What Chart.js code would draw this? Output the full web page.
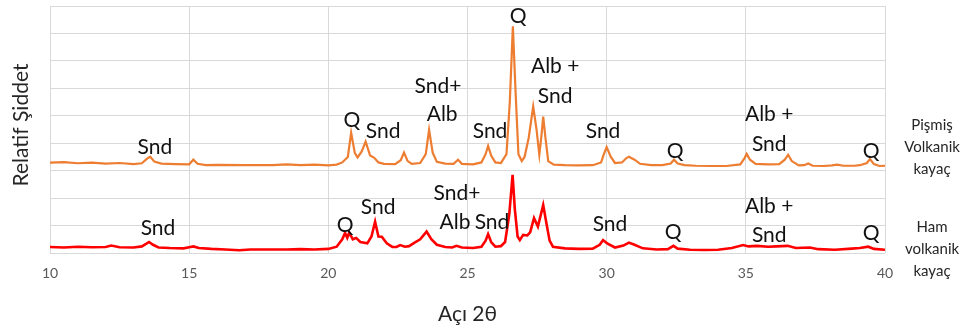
<!DOCTYPE html>
<html>
<head>
<meta charset="utf-8">
<script src="https://cdn.jsdelivr.net/npm/chart.js@4/dist/chart.umd.min.js"></script>
<style>
  html, body { margin: 0; padding: 0; background: #fff; }
  #wrap { width: 964px; height: 334px; position: relative; }
</style>
</head>
<body>
<div id="wrap"><canvas id="chart_xrd" width="964" height="334"></canvas></div>
<script>
// Pişmiş volkanik kayaç (orange, offset upward)
const PISMIS_X = [10, 10.5, 11, 11.5, 12, 12.5, 13, 13.3, 13.5, 13.6, 13.75, 14, 14.5, 15, 15.15, 15.3, 15.6, 16, 17, 18, 18.5, 19, 19.5, 20, 20.3, 20.5, 20.7, 20.82, 20.95, 21.05, 21.2, 21.34, 21.5, 21.65, 21.8, 22, 22.4, 22.6, 22.72, 22.85, 23, 23.3, 23.5, 23.62, 23.75, 23.9, 24.2, 24.5, 24.66, 24.8, 25.2, 25.5, 25.65, 25.74, 25.85, 26, 26.2, 26.4, 26.52, 26.63, 26.73, 26.83, 26.95, 27.05, 27.2, 27.36, 27.48, 27.58, 27.65, 27.72, 27.8, 27.9, 28.1, 28.5, 29, 29.5, 29.8, 29.9, 30, 30.15, 30.3, 30.55, 30.7, 30.8, 31, 31.2, 31.6, 32, 32.3, 32.42, 32.55, 32.8, 33.2, 33.8, 34.3, 34.8, 34.95, 35.03, 35.15, 35.35, 35.8, 36.2, 36.4, 36.52, 36.65, 36.9, 37.1, 37.24, 37.4, 37.8, 38.1, 38.28, 38.5, 38.9, 39.1, 39.35, 39.46, 39.6, 39.8, 40];
const PISMIS_Y = [32.9, 33.1, 32.7, 32.9, 32.6, 32.8, 32.4, 32.7, 34.5, 35.1, 33.3, 32.6, 32.4, 32.3, 34.0, 32.5, 32.0, 32.1, 32.0, 32.0, 32.3, 32.0, 32.2, 31.9, 32.2, 33.0, 35.0, 43.8, 36.5, 34.8, 37.0, 40.6, 35.5, 34.7, 33.0, 32.5, 32.4, 33.8, 36.6, 33.5, 32.5, 32.8, 36.0, 44.9, 36.5, 33.2, 32.6, 32.5, 34.0, 32.5, 32.3, 33.0, 36.0, 39.0, 35.5, 33.0, 32.8, 36.0, 55, 82.6, 58, 36, 33.5, 35, 42, 53.4, 45, 35.8, 42, 49.7, 42, 33.5, 32.2, 32.0, 31.9, 32.0, 33.0, 36, 38.6, 35, 32.8, 33.0, 34.5, 35.1, 34, 32.5, 32.0, 32.0, 32.6, 34.0, 32.6, 32.0, 31.8, 31.7, 31.7, 32.3, 34.5, 36.1, 34.0, 32.5, 32.3, 32.4, 34.0, 35.8, 33.5, 31.9, 32.0, 32.6, 31.8, 31.7, 31.9, 32.2, 31.8, 31.8, 32.0, 32.8, 34.2, 32.4, 31.7, 31.8];

// Ham volkanik kayaç (red)
const HAM_X = [10, 10.5, 11, 11.5, 12, 12.2, 12.5, 13, 13.3, 13.45, 13.56, 13.7, 13.9, 14.3, 14.8, 15, 15.15, 15.35, 15.8, 16.3, 16.8, 17.2, 17.8, 18.5, 19, 19.5, 20, 20.3, 20.5, 20.6, 20.68, 20.75, 20.88, 21, 21.15, 21.4, 21.55, 21.68, 21.8, 21.92, 22.1, 22.3, 22.45, 22.58, 22.75, 22.9, 23.1, 23.3, 23.53, 23.7, 23.9, 24.2, 24.45, 24.6, 24.8, 25.2, 25.5, 25.65, 25.74, 25.85, 26, 26.2, 26.35, 26.5, 26.62, 26.7, 26.8, 26.88, 27, 27.15, 27.25, 27.39, 27.53, 27.72, 27.85, 27.95, 28.07, 28.5, 29, 29.5, 29.75, 29.87, 30.05, 30.3, 30.6, 30.8, 31, 31.3, 31.8, 32.2, 32.4, 32.55, 33, 33.5, 34, 34.5, 34.9, 35.1, 35.4, 35.8, 36.1, 36.5, 36.8, 37.3, 37.6, 38.2, 38.8, 39.1, 39.4, 39.6, 40];
const HAM_Y = [2.2, 2.0, 2.3, 2.1, 2.2, 2.7, 2.1, 2.0, 2.4, 3.3, 4.0, 3.0, 2.0, 1.8, 1.7, 2.1, 2.4, 1.8, 1.5, 1.3, 1.0, 1.3, 1.3, 1.3, 1.4, 1.3, 1.5, 2.3, 5.0, 7.3, 5.5, 7.4, 5.0, 5.5, 4.0, 3.5, 6.0, 11.4, 6.0, 5.9, 3.5, 2.2, 2.2, 2.9, 2.3, 2.5, 3.8, 5.0, 7.8, 5.0, 3.0, 2.2, 2.0, 2.6, 2.0, 1.8, 2.3, 4.5, 6.9, 4.0, 2.3, 2.5, 4.0, 14, 28.5, 16, 6, 4.7, 6.6, 6.4, 7.5, 12.7, 9.6, 17.5, 10, 4.5, 2.3, 1.7, 1.5, 1.6, 3.0, 4.7, 3.3, 2.0, 2.7, 3.8, 3.0, 1.7, 1.3, 1.4, 2.6, 1.6, 1.2, 1.1, 1.2, 1.8, 2.9, 2.4, 2.6, 2.3, 2.4, 2.6, 1.8, 2.0, 1.4, 1.2, 1.6, 1.8, 2.3, 1.5, 1.2];

// Peak labels: text, x (2θ), y (intensity)
const PISMIS_LABELS = [
    ["Snd", 13.77, 38.7], ["Q", 20.85, 48.2], ["Snd", 21.97, 44.2],
    ["Snd+", 23.94, 60.9], ["Alb", 24.09, 50.4], ["Snd", 25.81, 44.2],
    ["Q", 26.82, 86.1], ["Alb +", 28.15, 67.9], ["Snd", 28.15, 57.3],
    ["Snd", 29.87, 44.2], ["Q", 32.46, 36.9], ["Alb +", 35.84, 50.4],
    ["Snd", 35.84, 39.8], ["Q", 39.5, 36.9],
];
const HAM_LABELS = [
    ["Snd", 13.88, 9.1], ["Q", 20.6, 10.2], ["Snd", 21.79, 16.8],
    ["Snd+", 24.62, 21.9], ["Alb", 24.55, 11.3], ["Snd", 25.88, 11.3],
    ["Snd", 30.12, 10.6], ["Q", 32.39, 7.7], ["Alb +", 35.84, 17.2],
    ["Snd", 35.84, 6.6], ["Q", 39.5, 7.3],
];

const SERIES_NAMES = [["Pişmiş", "Volkanik", "kayaç"], ["Ham", "volkanik", "kayaç"]];
const SERIES_NAME_Y = [38.5, 1.5];
const X_TICKS = [10, 15, 20, 25, 30, 35, 40];

const toPoints = (xs, ys) => xs.map((x, i) => ({ x: x, y: ys[i] }));

const labelPlugin = {
    id: "peakLabels",
    afterDraw(chart) {
        const ctx = chart.ctx;
        const sx = chart.scales.x;
        const sy = chart.scales.y;
        const area = chart.chartArea;
        ctx.save();
        ctx.textAlign = "center";
        ctx.textBaseline = "middle";
        ctx.fillStyle = "#111111";
        ctx.font = "21px Lato";
        [...PISMIS_LABELS, ...HAM_LABELS].forEach(([t, x, y]) => {
            ctx.fillText(t, sx.getPixelForValue(x), sy.getPixelForValue(y));
        });

        // series names on the right
        ctx.font = "15px Lato";
        ctx.fillStyle = "#262626";
        SERIES_NAMES.forEach((lines, i) => {
            const cy = sy.getPixelForValue(SERIES_NAME_Y[i]);
            lines.forEach((l, j) => {
                ctx.fillText(l, 932, cy + (j - 1) * 22);
            });
        });

        // axis titles
        ctx.fillStyle = "#262626";
        ctx.font = "21px Lato";
        ctx.fillText("Açı 2θ", (area.left + area.right) / 2, 314);
        ctx.translate(21, 125);
        ctx.rotate(-Math.PI / 2);
        ctx.fillText("Relatif Şiddet", 0, 0);
        ctx.restore();
    },
};

const ctx = document.getElementById("chart_xrd");
const xrdChart = new Chart(ctx, {
    type: "line",
    data: {
        datasets: [
            {
                label: "Pişmiş Volkanik kayaç",
                data: toPoints(PISMIS_X, PISMIS_Y),
                borderColor: "#ED7D31",
                borderWidth: 2.2,
                pointRadius: 0,
                tension: 0,
            },
            {
                label: "Ham volkanik kayaç",
                data: toPoints(HAM_X, HAM_Y),
                borderColor: "#FF0000",
                borderWidth: 2.6,
                pointRadius: 0,
                tension: 0,
            },
        ],
    },
    options: {
        responsive: false,
        animation: false,
        devicePixelRatio: 1,
        layout: { padding: { left: 50, right: 79, top: 6, bottom: 0 } },
        plugins: {
            legend: { display: false },
            tooltip: { enabled: false },
        },
        scales: {
            x: {
                type: "linear",
                min: 10,
                max: 40,
                afterBuildTicks: (s) => { s.ticks = X_TICKS.map((v) => ({ value: v })); },
                afterFit: (s) => { s.height = 81; },
                grid: { color: "#d9d9d9", drawTicks: false },
                border: { display: false },
                ticks: { color: "#595959", font: { size: 14, family: "Lato" }, padding: 12 },
            },
            y: {
                min: 0,
                max: 90,
                afterFit: (s) => { s.width = 0; },
                ticks: { display: false, stepSize: 10 },
                grid: { color: "#d9d9d9", drawTicks: false },
                border: { display: false },
            },
        },
    },
    plugins: [labelPlugin],
});
</script>
</body>
</html>
